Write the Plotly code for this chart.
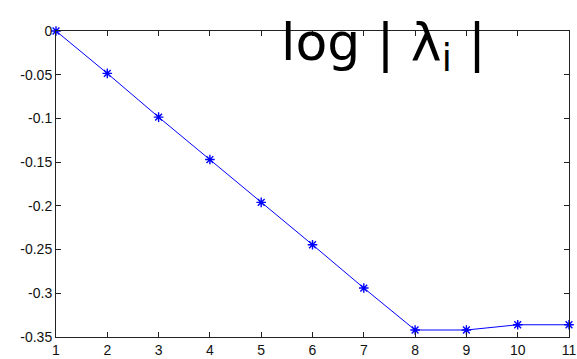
import plotly.graph_objects as go

x_vals = [1, 2, 3, 4, 5, 6, 7, 8, 9, 10, 11]
y_vals = [0.0, -0.0485, -0.0985, -0.147, -0.196, -0.2445, -0.294, -0.342, -0.342, -0.336, -0.336]
x_ticks = [1, 2, 3, 4, 5, 6, 7, 8, 9, 10, 11]
y_ticks = [0, -0.05, -0.1, -0.15, -0.2, -0.25, -0.3, -0.35]
y_tick_labels = ["0", "-0.05", "-0.1", "-0.15", "-0.2", "-0.25", "-0.3", "-0.35"]
title_text = "log | λ<sub>i</sub> |"

fig = go.Figure()
fig.add_trace(go.Scatter(
    x=x_vals, y=y_vals, mode="lines+markers",
    line=dict(color="#0000ff", width=1),
    marker=dict(symbol="asterisk-open", size=8, color="#0000ff", line=dict(color="#0000ff", width=1.4)),
    cliponaxis=False, showlegend=False,
))

axis_common = dict(
    showline=True, mirror="ticks", linecolor="#222222", linewidth=1,
    ticks="inside", ticklen=5, tickcolor="#222222", showgrid=False, zeroline=False,
    ticklabeloverflow="allow",
    tickfont=dict(family="Liberation Sans, Arial, sans-serif", size=14, color="#111111"),
)
fig.update_xaxes(range=[1, 11], tickmode="array", tickvals=x_ticks, **axis_common)
fig.update_yaxes(range=[-0.35, 0], tickmode="array", tickvals=y_ticks, ticktext=y_tick_labels, **axis_common)

fig.add_annotation(
    xref="paper", yref="paper", x=0.435, y=0.95, xanchor="left", yanchor="middle",
    text=title_text, showarrow=False,
    font=dict(family="DejaVu Sans, sans-serif", size=52, color="black"),
)

fig.update_layout(
    width=577, height=359,
    margin=dict(l=56, r=1, t=31, b=16),
    paper_bgcolor="white", plot_bgcolor="white",
)

fig.write_html("out.html")
